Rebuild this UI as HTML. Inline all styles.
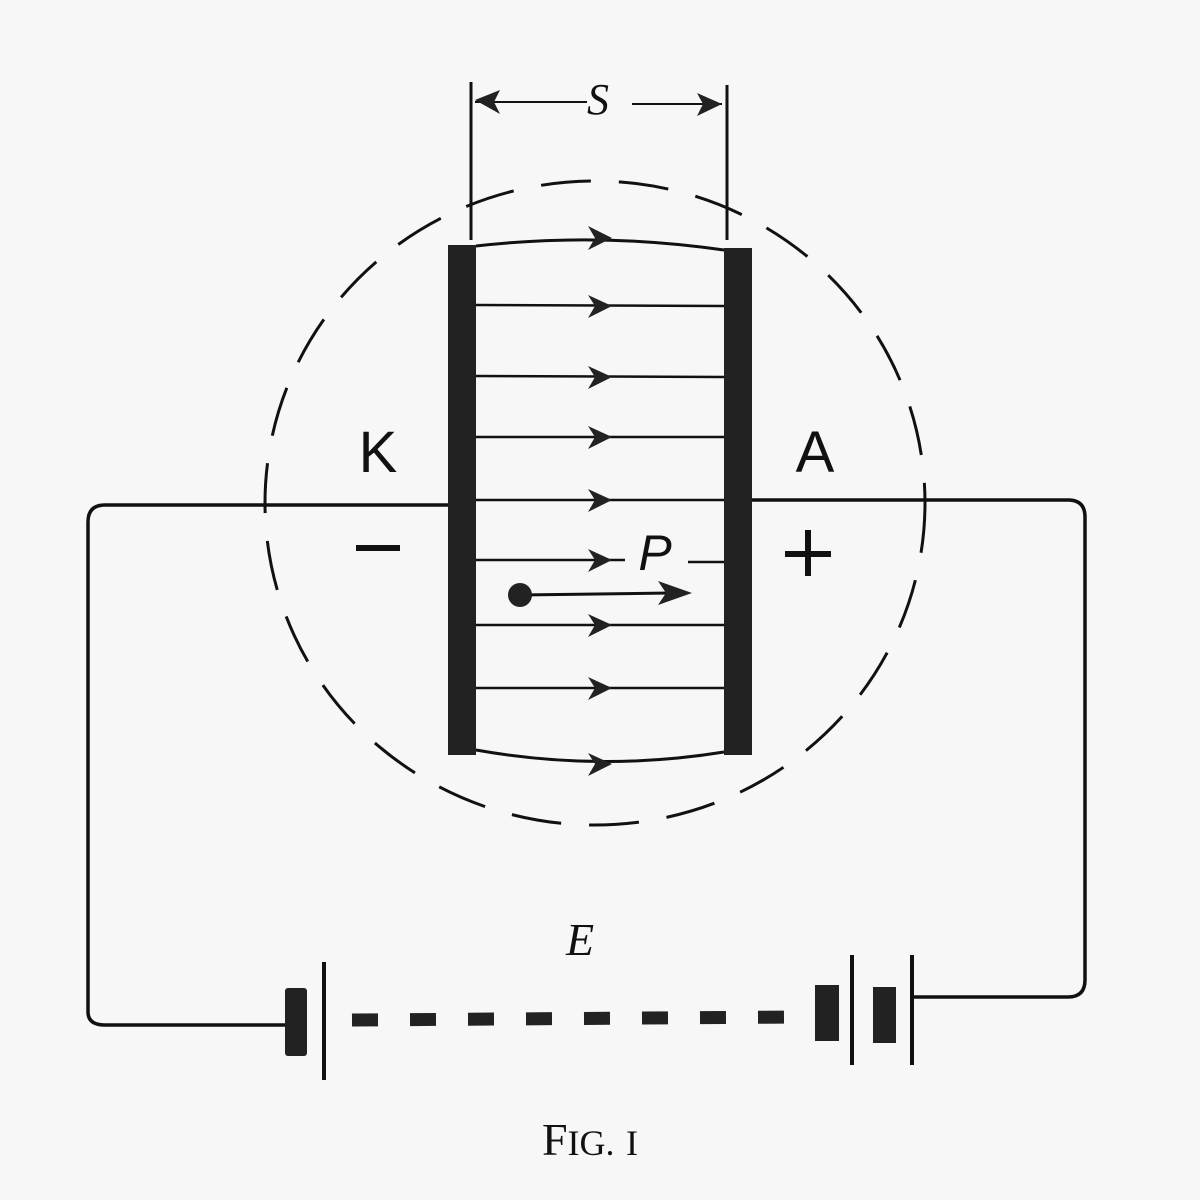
<!DOCTYPE html>
<html><head><meta charset="utf-8"><style>
html,body{margin:0;padding:0;background:#f7f7f7;}
svg{display:block}
</style></head><body>
<svg width="1200" height="1200" viewBox="0 0 1200 1200" xmlns="http://www.w3.org/2000/svg">
<rect width="1200" height="1200" fill="#f7f7f7"/>
<g stroke="#111" fill="none">
<!-- dashed circle -->
<ellipse cx="595" cy="503" rx="330" ry="322" stroke-width="3" stroke-dasharray="50 28"/>
<!-- dimension lines -->
<line x1="471" y1="82" x2="471" y2="240" stroke-width="3"/>
<line x1="727" y1="85" x2="727" y2="240" stroke-width="3"/>
<line x1="475" y1="102" x2="587" y2="102" stroke-width="2"/>
<line x1="632" y1="104" x2="722" y2="104" stroke-width="2"/>
<!-- field lines -->
<path d="M476 246 Q600 232 724 250" stroke-width="3"/>
<line x1="476" y1="305" x2="724" y2="306" stroke-width="2.5"/>
<line x1="476" y1="376" x2="724" y2="377" stroke-width="2.5"/>
<line x1="476" y1="437" x2="724" y2="437" stroke-width="2.5"/>
<line x1="476" y1="500" x2="724" y2="500" stroke-width="2.5"/>
<line x1="476" y1="560" x2="625" y2="560" stroke-width="2.5"/>
<line x1="688" y1="562" x2="724" y2="562" stroke-width="2.5"/>
<line x1="476" y1="625" x2="724" y2="625" stroke-width="2.5"/>
<line x1="476" y1="688" x2="724" y2="688" stroke-width="2.5"/>
<path d="M476 750 Q600 772 724 752" stroke-width="3"/>
<!-- P arrow -->
<line x1="520" y1="595" x2="670" y2="593" stroke-width="3"/>
<!-- circuit -->
<path d="M448 505 L105 505 Q88 505 88 522 L88 1012 Q88 1025 105 1025 L287 1025" stroke-width="3.5"/>
<path d="M752 500 L1068 500 Q1085 500 1085 517 L1085 980 Q1085 997 1068 997 L912 997" stroke-width="3.5"/>
<!-- battery thin lines -->
<line x1="324" y1="962" x2="324" y2="1080" stroke-width="4"/>
<line x1="852" y1="955" x2="852" y2="1065" stroke-width="4"/>
<line x1="912" y1="955" x2="912" y2="1065" stroke-width="4"/>
<line x1="352" y1="1020" x2="800" y2="1017" stroke-width="13" stroke-dasharray="26 32" stroke="#222"/>
</g>
<g fill="#222">
<rect x="448" y="245" width="28" height="510"/>
<rect x="724" y="248" width="28" height="507"/>
<rect x="285" y="988" width="22" height="68" rx="3"/>
<rect x="815" y="985" width="24" height="56"/>
<rect x="873" y="987" width="23" height="56"/>
<circle cx="520" cy="595" r="12"/>
<!-- arrowheads -->
<polygon points="475,100 500,90 494,102 500,114"/>
<polygon points="722,104 697,93 703,104 697,116"/>
<g id="ah"><polygon points="612,238 588,226 595,238 588,250"/></g>
<polygon points="612,306 588,295 595,306 588,318"/>
<polygon points="612,377 588,366 595,377 588,389"/>
<polygon points="612,437 588,426 595,437 588,449"/>
<polygon points="612,500 588,489 595,500 588,512"/>
<polygon points="612,560 588,549 595,560 588,572"/>
<polygon points="612,625 588,614 595,625 588,637"/>
<polygon points="612,688 588,677 595,688 588,700"/>
<polygon points="612,764 588,753 595,764 588,776"/>
<polygon points="692,593 658,581 666,593 658,605"/>
</g>
<g fill="#111" font-family="'Liberation Serif',serif">
<text x="598" y="114" font-size="44" font-style="italic" text-anchor="middle">S</text>
<text x="378" y="472" font-size="58" font-family="'Liberation Sans',sans-serif" text-anchor="middle">K</text>
<text x="815" y="472" font-size="58" font-family="'Liberation Sans',sans-serif" text-anchor="middle">A</text>
<text x="655" y="570" font-size="50" font-style="italic" font-family="'Liberation Sans',sans-serif" text-anchor="middle">P</text>
<text x="580" y="955" font-size="46" font-style="italic" text-anchor="middle">E</text>
<text x="590" y="1155" font-size="46" text-anchor="middle">F<tspan font-size="36">IG.</tspan> <tspan font-size="36">I</tspan></text>
</g>
<rect x="356" y="545" width="44" height="6" fill="#111"/>
<rect x="785" y="551" width="46" height="6" fill="#111"/>
<rect x="805" y="530" width="6" height="46" fill="#111"/>
</svg>
</body></html>
